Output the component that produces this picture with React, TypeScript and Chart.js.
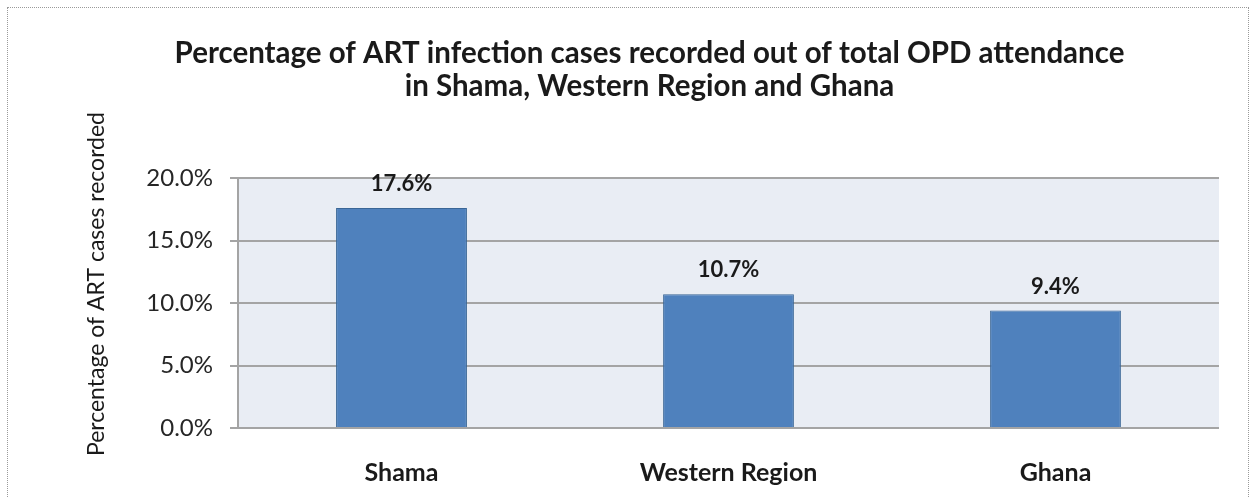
import React, { useEffect, useRef } from "react";
import { Chart, registerables } from "chart.js";

Chart.register(...registerables);

const categories = ["Shama", "Western Region", "Ghana"];
const values = [17.6, 10.7, 9.4];
const yTicks = [0, 5, 10, 15, 20];
const titleLines = [
  "Percentage of ART infection cases recorded out of total OPD attendance",
  "in Shama, Western Region and Ghana",
];
const yTitle = "Percentage of ART cases recorded";

const FONT = "Lato, 'Open Sans', sans-serif";

const plotBg = {
  id: "plotBg",
  beforeDraw(chart: any) {
    const { ctx, chartArea } = chart;
    ctx.save();
    ctx.fillStyle = "#E9EDF4";
    ctx.fillRect(chartArea.left, chartArea.top, chartArea.right - chartArea.left, chartArea.bottom - chartArea.top);
    ctx.restore();
  },
};

const yTitlePlugin = {
  id: "yTitlePlugin",
  afterDraw(chart: any) {
    const { ctx, chartArea } = chart;
    ctx.save();
    ctx.translate(97, (chartArea.top + chartArea.bottom) / 2 - 19);
    ctx.rotate(-Math.PI / 2);
    ctx.font = `23px ${FONT}`;
    ctx.fillStyle = "#1a1a1a";
    ctx.textAlign = "center";
    ctx.textBaseline = "middle";
    ctx.fillText(yTitle, 0, 0);
    ctx.restore();
  },
};

const dataLabels = {
  id: "dataLabels",
  afterDatasetsDraw(chart: any) {
    const { ctx } = chart;
    const meta = chart.getDatasetMeta(0);
    ctx.save();
    ctx.font = `bold 22px ${FONT}`;
    ctx.fillStyle = "#1a1a1a";
    ctx.textAlign = "center";
    ctx.textBaseline = "middle";
    meta.data.forEach((el: any, i: number) => {
      ctx.fillText(values[i].toFixed(1) + "%", el.x, el.y - 24);
    });
    ctx.restore();
  },
};

export default function App() {
  const ref = useRef<HTMLCanvasElement>(null);
  useEffect(() => {
    if (!ref.current) return;
    const chart = new Chart(ref.current, {
      type: "bar",
      data: {
        labels: categories,
        datasets: [
          {
            data: values,
            backgroundColor: "#4F81BD",
            borderColor: "#3A6696",
            borderWidth: 1,
            categoryPercentage: 1,
            barPercentage: 0.4,
          },
        ],
      },
      options: {
        animation: false,
        responsive: false,
        layout: { padding: { left: 80, right: 34, top: 0, bottom: -20 } },
        plugins: {
          legend: { display: false },
          tooltip: { enabled: false },
          title: {
            display: true,
            text: titleLines,
            color: "#1a1a1a",
            font: { family: FONT, size: 29.5, weight: "bold", lineHeight: 1.12 },
            padding: { top: 36.5, bottom: 75.5 },
          },
        },
        scales: {
          x: {
            grid: { display: false, drawTicks: false },
            border: { display: false },
            ticks: {
              color: "#1a1a1a",
              padding: 30,
              font: { family: FONT, size: 25, weight: "bold" },
            },
          },
          y: {
            min: 0,
            max: 20,
            afterBuildTicks(scale: any) {
              scale.ticks = yTicks.map((v) => ({ value: v }));
            },
            afterFit(scale: any) {
              scale.width = 238 - 80;
            },
            grid: { color: "#A4A4A4", lineWidth: 2, tickLength: 8, drawTicks: true },
            border: { display: true, color: "#A4A4A4", width: 2 },
            ticks: {
              color: "#262626",
              padding: 17,
              font: { family: FONT, size: 24 },
              callback: (v: any) => Number(v).toFixed(1) + "%",
            },
          },
        },
      },
      plugins: [plotBg, dataLabels, yTitlePlugin],
    });
    return () => chart.destroy();
  }, []);
  return (
    <div style={{ position: "fixed", left: 0, top: 0, width: 1253, height: 498, background: "#fff" }}>
      <div
        style={{
          position: "absolute",
          left: 7,
          top: 7,
          width: 1242,
          height: 520,
          border: "1px dotted #9a9a9a",
          boxSizing: "border-box",
        }}
      />
      <canvas ref={ref} width={1253} height={498} style={{ position: "absolute", left: 0, top: 0 }} />
    </div>
  );
}
